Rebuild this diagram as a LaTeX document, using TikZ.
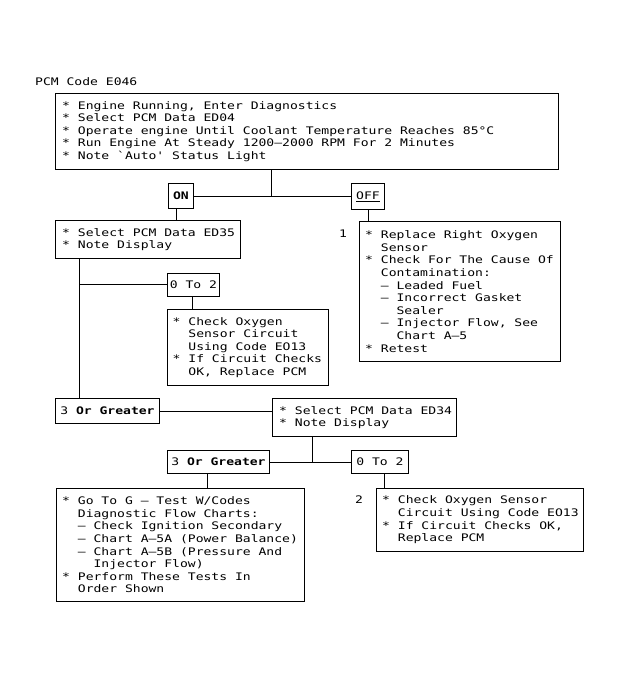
\documentclass[tikz,border=0pt]{standalone}
\usepackage{fontspec}
\newfontfamily\dmono[FakeStretch=1.255,Ligatures=TeXOff]{DejaVu Sans Mono}
\begin{document}
\begin{tikzpicture}[x=1pt,y=-1pt,
  box/.style={draw,line width=0.9pt,anchor=north west,inner sep=0pt},
  txt/.style={inner sep=0pt,align=left,font=\dmono\fontsize{10.4}{12.6}\selectfont},
  ln/.style={line width=0.9pt}]
\fill[white] (0,0) rectangle (622,677);
\useasboundingbox (0,0) rectangle (622,677);

\node[txt,anchor=base west] (title) at (35,85) {PCM Code E046};

% boxes
\node[box,minimum width=503pt,minimum height=76pt] (b1) at (55,93) {};
\node[box,minimum width=25pt,minimum height=25pt] (on) at (168,183) {};
\node[box,minimum width=33pt,minimum height=26pt] (off) at (351,183) {};
\node[box,minimum width=185pt,minimum height=38pt] (ed35) at (55,220) {};
\node[box,minimum width=201pt,minimum height=140pt] (rep) at (359,221) {};
\node[box,minimum width=52pt,minimum height=23pt] (z1) at (167,273) {};
\node[box,minimum width=161pt,minimum height=76pt] (ck1) at (167,309) {};
\node[box,minimum width=104pt,minimum height=25pt] (og1) at (55,398) {};
\node[box,minimum width=184pt,minimum height=38pt] (ed34) at (272,398) {};
\node[box,minimum width=102pt,minimum height=23pt] (og2) at (167,450) {};
\node[box,minimum width=57pt,minimum height=23pt] (z2) at (351,450) {};
\node[box,minimum width=207pt,minimum height=63pt] (ck2) at (376,488) {};
\node[box,minimum width=248pt,minimum height=113pt] (go) at (56,488) {};

% texts
\node[txt,anchor=west] (t1) at ([xshift=7pt]b1.west) {%
* Engine Running, Enter Diagnostics\\
* Select PCM Data ED04\\
* Operate engine Until Coolant Temperature Reaches 85°C\\
* Run Engine At Steady 1200–2000 RPM For 2 Minutes\\
* Note `Auto' Status Light};
\node[txt,font=\dmono\bfseries\fontsize{10.4}{12.6}\selectfont] (ton) at (on.center) {ON};
\node[txt] (toff) at (off.center) {\underline{OFF}};
\node[txt,anchor=west] (t35) at ([xshift=7pt]ed35.west) {%
* Select PCM Data ED35\\
* Note Display};
\node[txt,anchor=west] (trep) at ([xshift=6pt]rep.west) {%
* Replace Right Oxygen\\
\phantom{* }Sensor\\
* Check For The Cause Of\\
\phantom{* }Contamination:\\
\phantom{* }– Leaded Fuel\\
\phantom{* }– Incorrect Gasket\\
\phantom{* – }Sealer\\
\phantom{* }– Injector Flow, See\\
\phantom{* – }Chart A–5\\
* Retest};
\node[txt,anchor=base] (n1) at (343,237) {1};
\node[txt] (tz1) at (z1.center) {0 To 2};
\node[txt,anchor=west] (tck1) at ([xshift=5.5pt]ck1.west) {%
* Check Oxygen\\
\phantom{* }Sensor Circuit\\
\phantom{* }Using Code EO13\\
* If Circuit Checks\\
\phantom{* }OK, Replace PCM};
\node[txt] (tog1) at (og1.center) {3 \textbf{Or Greater}};
\node[txt,anchor=west] (t34) at ([xshift=7pt]ed34.west) {%
* Select PCM Data ED34\\
* Note Display};
\node[txt] (tog2) at (og2.center) {3 \textbf{Or Greater}};
\node[txt] (tz2) at (z2.center) {0 To 2};
\node[txt,anchor=west] (tck2) at ([xshift=6pt]ck2.west) {%
* Check Oxygen Sensor\\
\phantom{* }Circuit Using Code EO13\\
* If Circuit Checks OK,\\
\phantom{* }Replace PCM};
\node[txt,anchor=base] (n2) at (359,503) {2};
\node[txt,anchor=west] (tgo) at ([xshift=6pt]go.west) {%
* Go To G – Test W/Codes\\
\phantom{* }Diagnostic Flow Charts:\\
\phantom{* }– Check Ignition Secondary\\
\phantom{* }– Chart A–5A (Power Balance)\\
\phantom{* }– Chart A–5B (Pressure And\\
\phantom{* – }Injector Flow)\\
* Perform These Tests In\\
\phantom{* }Order Shown};

% junctions
\coordinate (j1) at (271,196);
\coordinate (xon) at (176,0);
\coordinate (j2) at (79,284);
\coordinate (xz1) at (192,0);
\coordinate (j3) at (312,462);
\coordinate (xz2) at (384,0);
\coordinate (xog2) at (207,0);

% connectors
\draw[ln] (j1 |- b1.south) -- (j1);
\draw[ln] (on.east) -- (on.east -| off.west);
\draw[ln] (on.south -| xon) -- (ed35.north -| xon);
\draw[ln] (off.south) -- (off.south |- rep.north);
\draw[ln] (j2 |- ed35.south) -- (j2 |- og1.north);
\draw[ln] (j2 -| j2) -- (j2 -| z1.west);
\draw[ln] (z1.south -| xz1) -- (ck1.north -| xz1);
\draw[ln] (og1.east) -- (og1.east -| ed34.west);
\draw[ln] (j3 |- ed34.south) -- (j3);
\draw[ln] (og2.east) -- (og2.east -| z2.west);
\draw[ln] (z2.south -| xz2) -- (ck2.north -| xz2);
\draw[ln] (og2.south -| xog2) -- (go.north -| xog2);
\end{tikzpicture}
\end{document}
